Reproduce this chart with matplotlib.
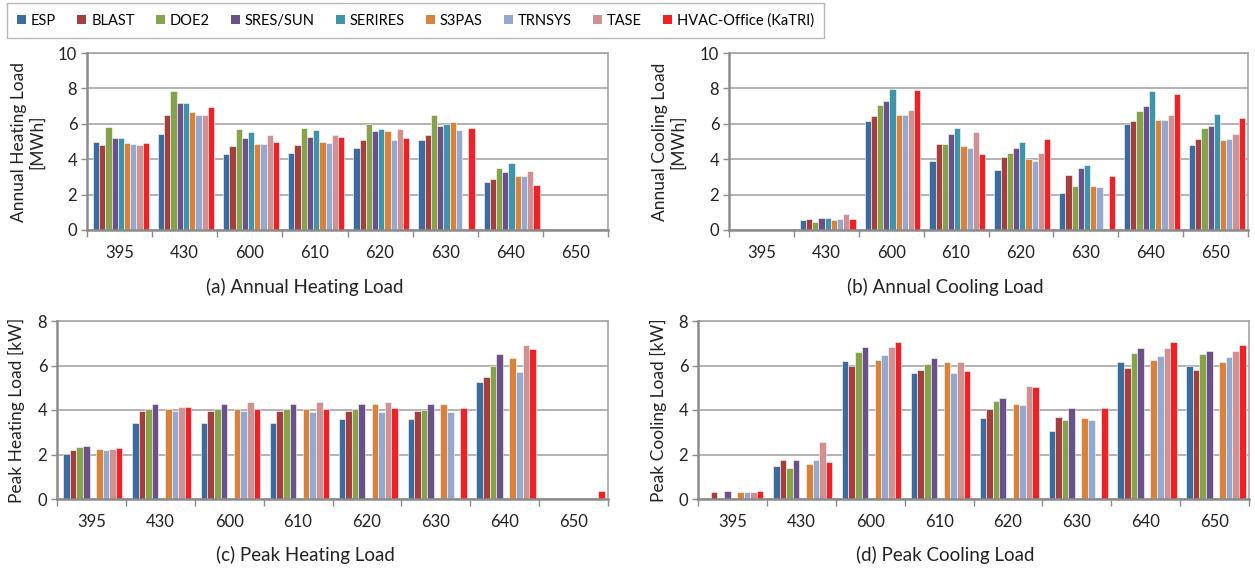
import matplotlib.pyplot as plt
import numpy as np
from matplotlib.patches import Patch

plt.rcParams['font.family'] = ['Lato', 'DejaVu Sans']

cases = ['395', '430', '600', '610', '620', '630', '640', '650']
programs = ['ESP', 'BLAST', 'DOE2', 'SRES/SUN', 'SERIRES', 'S3PAS', 'TRNSYS', 'TASE', 'HVAC-Office (KaTRI)']
colors = ['#3B6C9E', '#A33F3F', '#86A34B', '#6A5289', '#3F94A9', '#D9823C', '#93A9CF', '#CF9191', '#EE2127']

# rows = programs, columns = cases (0 = no result reported)
annual_heating = [
    [5.00, 5.45, 4.29, 4.34, 4.62, 5.08, 2.74, 0],
    [4.79, 6.47, 4.74, 4.79, 5.08, 5.38, 2.86, 0],
    [5.83, 7.84, 5.70, 5.77, 5.98, 6.47, 3.52, 0],
    [5.19, 7.18, 5.19, 5.26, 5.58, 5.90, 3.25, 0],
    [5.19, 7.18, 5.56, 5.66, 5.71, 5.98, 3.76, 0],
    [4.92, 6.67, 4.87, 5.00, 5.58, 6.11, 3.06, 0],
    [4.87, 6.47, 4.87, 4.92, 5.08, 5.66, 3.06, 0],
    [4.79, 6.47, 5.36, 5.38, 5.71, 0, 3.31, 0],
    [4.92, 6.94, 5.00, 5.26, 5.21, 5.77, 2.56, 0],
]
annual_cooling = [
    [0, 0.55, 6.17, 3.89, 3.38, 2.09, 5.98, 4.81],
    [0, 0.60, 6.43, 4.87, 4.10, 3.12, 6.18, 5.15],
    [0, 0.43, 7.07, 4.87, 4.36, 2.46, 6.75, 5.77],
    [0, 0.68, 7.26, 5.45, 4.62, 3.52, 7.01, 5.90],
    [0, 0.68, 7.97, 5.77, 5.00, 3.70, 7.84, 6.54],
    [0, 0.55, 6.47, 4.74, 4.02, 2.48, 6.22, 5.06],
    [0, 0.60, 6.47, 4.61, 3.89, 2.41, 6.22, 5.13],
    [0, 0.88, 6.80, 5.51, 4.36, 0, 6.48, 5.45],
    [0, 0.60, 7.91, 4.29, 5.15, 3.06, 7.71, 6.35],
]
peak_heating = [
    [2.03, 3.42, 3.42, 3.42, 3.59, 3.59, 5.24, 0],
    [2.19, 3.95, 3.95, 3.95, 3.95, 3.95, 5.50, 0],
    [2.34, 4.05, 4.05, 4.05, 4.05, 3.99, 5.96, 0],
    [2.39, 4.29, 4.25, 4.25, 4.25, 4.25, 6.53, 0],
    [0, 0, 0, 0, 0, 0, 0, 0],
    [2.24, 4.05, 4.05, 4.05, 4.25, 4.25, 6.32, 0],
    [2.19, 3.95, 3.95, 3.89, 3.89, 3.89, 5.71, 0],
    [2.24, 4.14, 4.35, 4.35, 4.35, 0, 6.94, 0],
    [2.28, 4.14, 4.05, 4.05, 4.10, 4.10, 6.74, 0.38],
]
peak_cooling = [
    [0, 1.47, 6.20, 5.65, 3.63, 3.06, 6.16, 6.00],
    [0.33, 1.77, 5.98, 5.80, 4.04, 3.68, 5.90, 5.80],
    [0, 1.41, 6.62, 6.05, 4.40, 3.57, 6.56, 6.52],
    [0.38, 1.77, 6.82, 6.35, 4.55, 4.08, 6.77, 6.67],
    [0, 0, 0, 0, 0, 0, 0, 0],
    [0.33, 1.58, 6.26, 6.16, 4.29, 3.63, 6.26, 6.16],
    [0.33, 1.77, 6.47, 5.65, 4.23, 3.57, 6.41, 6.37],
    [0.33, 2.55, 6.82, 6.16, 5.08, 0, 6.77, 6.67],
    [0.38, 1.67, 7.07, 5.75, 5.02, 4.08, 7.04, 6.94],
]

W, H = 1255, 574
fig = plt.figure(figsize=(W / 100, H / 100), dpi=100)


def px_axes(l, t, r, b):
    return fig.add_axes([l / W, 1 - b / H, (r - l) / W, (b - t) / H])


panels = [
    (px_axes(87, 53, 608, 230), annual_heating, 10, 'Annual Heating Load\n[MWh]', '(a) Annual Heating Load', 305, 287, 28),
    (px_axes(729, 53, 1248, 230), annual_cooling, 10, 'Annual Cooling Load\n[MWh]', '(b) Annual Cooling Load', 945, 287, 669),
    (px_axes(57, 321, 608, 499), peak_heating, 8, 'Peak Heating Load [kW]', '(c) Peak Heating Load', 305, 555, 16),
    (px_axes(698, 321, 1249, 499), peak_cooling, 8, 'Peak Cooling Load [kW]', '(d) Peak Cooling Load', 945, 555, 658),
]

bw = 0.0957
x = np.arange(len(cases))
for ax, data, ymax, ylab, title, tx, ty, lx in panels:
    for j, vals in enumerate(data):
        vals = np.array(vals, dtype=float)
        keep = vals > 0
        ax.bar(x[keep] + (j - 4) * bw + 0.02, vals[keep], bw, color=colors[j],
               edgecolor='white', linewidth=0.4, zorder=3)
    ax.set_xlim(-0.5, len(cases) - 0.5)
    ax.set_ylim(0, ymax)
    ax.set_yticks(np.arange(0, ymax + 1, 2))
    ax.set_xticks(x)
    ax.set_xticklabels(cases)
    ax.set_xticks(np.arange(-0.5, len(cases)), minor=True)
    ax.tick_params(axis='x', which='major', length=0, pad=11, labelsize=12, colors='#222222')
    ax.tick_params(axis='x', which='minor', length=5, width=1, color='#8c8c8c')
    ax.tick_params(axis='y', length=4, width=1, color='#8c8c8c', labelsize=12, pad=3, labelcolor='#222222')
    ax.yaxis.grid(True, color='#a6a6a6', linewidth=1.2, zorder=0)
    ax.set_axisbelow(True)
    for s in ['left', 'bottom']:
        ax.spines[s].set_color('#8c8c8c')
        ax.spines[s].set_linewidth(1.8)
        ax.spines[s].set_zorder(4)
    for s in ['top', 'right']:
        ax.spines[s].set_color('#a6a6a6')
        ax.spines[s].set_linewidth(1.2)
    pos = ax.get_position()
    fig.text(lx / W, (pos.y0 + pos.y1) / 2, ylab, rotation=90, ha='center', va='center',
             fontsize=12.5, color='#222222', linespacing=1.15, multialignment='center')
    fig.text(tx / W, 1 - ty / H, title, ha='center', va='center', fontsize=13.5, color='#222222')

handles = [Patch(facecolor=c, edgecolor='none') for c in colors]
fig.legend(handles, programs, loc='upper left', bbox_to_anchor=(7 / W, 1 - 3 / H),
           ncol=9, frameon=True, fancybox=False, edgecolor='#a6a6a6', fontsize=10.5,
           handlelength=0.6, handleheight=0.6, handletextpad=0.35, columnspacing=1.45,
           borderpad=0.7, borderaxespad=0)

fig.savefig('out.png', dpi=100)
